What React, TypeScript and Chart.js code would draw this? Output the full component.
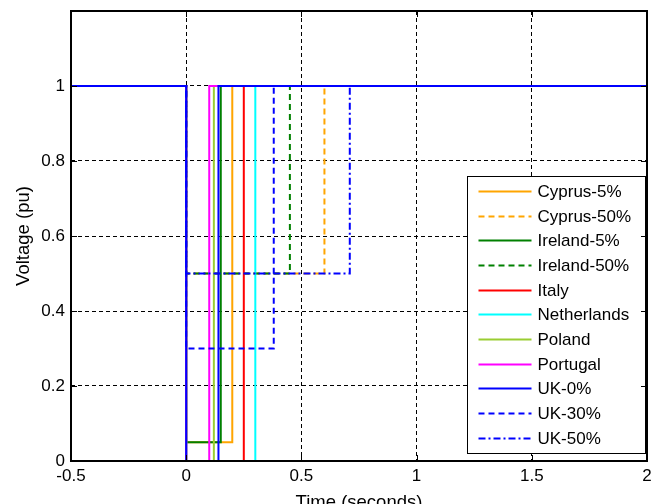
import React, { useEffect, useRef } from 'react';
import { Chart, registerables } from 'chart.js';

Chart.register(...registerables);

// ---- data ----
const seriesNames = [
  'Cyprus-5%', 'Cyprus-50%', 'Ireland-5%', 'Ireland-50%', 'Italy',
  'Netherlands', 'Poland', 'Portugal', 'UK-0%', 'UK-30%', 'UK-50%',
];
const simStart = -0.5;
const simEnd = 2;
const faultStart = 0;
const preFaultVoltage = 1;
const retainedVoltage = [0.05, 0.5, 0.05, 0.5, 0, 0, 0, 0, 0, 0.3, 0.5];
const clearTime = [0.2, 0.6, 0.15, 0.45, 0.25, 0.3, 0.12, 0.1, 0.14, 0.38, 0.71];
const xTicks = [-0.5, 0, 0.5, 1, 1.5, 2];
const yTicks = [0, 0.2, 0.4, 0.6, 0.8, 1];
const yMax = 1.2;

// ---- styles ----
const seriesColors = [
  '#FFA500', '#FFA500', '#008000', '#008000', '#FF0000',
  '#00FFFF', '#9ACD32', '#FF00FF', '#0000FF', '#0000FF', '#0000FF',
];
const DASH = [6, 4];
const DASHDOT = [7, 3, 2, 3];
const seriesDash: number[][] = [[], DASH, [], DASH, [], [], [], [], [], DASH, DASHDOT];

const FONT_FAMILY = '"Liberation Sans", Arial, Helvetica, sans-serif';
const TICK_SIZE = 17;
const LEGEND_SIZE = 17;
const LABEL_SIZE = 18.5;
const CANVAS_H = 516;

const framePlugin = {
  id: 'matlabFrame',
  afterDraw(chart: any) {
    const { ctx, chartArea: ca, scales } = chart;
    const xs = scales.x;
    const ys = scales.y;
    ctx.save();
    ctx.setLineDash([]);

    // legend box
    const boxR = ca.right - 1.5;
    const boxW = 178;
    const boxL = boxR - boxW;
    const boxB = ca.bottom - 7.5;
    const boxH = 277;
    const boxT = boxB - boxH;
    ctx.fillStyle = '#fff';
    ctx.fillRect(boxL, boxT, boxW, boxH);
    ctx.strokeStyle = '#000';
    ctx.lineWidth = 1;
    ctx.strokeRect(boxL, boxT, boxW, boxH);

    const rowH = 24.65;
    ctx.font = `${LEGEND_SIZE}px ${FONT_FAMILY}`;
    ctx.textBaseline = 'middle';
    ctx.textAlign = 'left';
    chart.data.datasets.forEach((ds: any, i: number) => {
      const y = Math.round(boxT + 14.5 + i * rowH) + 0.5;
      ctx.save();
      ctx.strokeStyle = ds.borderColor;
      ctx.lineWidth = 2;
      ctx.setLineDash(ds.borderDash || []);
      ctx.beginPath();
      ctx.moveTo(boxL + 11, y);
      ctx.lineTo(boxL + 64, y);
      ctx.stroke();
      ctx.restore();
      ctx.fillStyle = '#000';
      ctx.fillText(ds.label, boxL + 70, y + 1);
    });

    // inward ticks
    ctx.strokeStyle = '#000';
    ctx.lineWidth = 1;
    const tl = 6;
    ctx.beginPath();
    xTicks.forEach((v) => {
      const px = Math.round(xs.getPixelForValue(v)) + 0.5;
      ctx.moveTo(px, ca.bottom);
      ctx.lineTo(px, ca.bottom - tl);
      ctx.moveTo(px, ca.top);
      ctx.lineTo(px, ca.top + tl);
    });
    yTicks.forEach((v) => {
      const py = Math.round(ys.getPixelForValue(v)) + 0.5;
      ctx.moveTo(ca.left, py);
      ctx.lineTo(ca.left + tl, py);
      ctx.moveTo(ca.right, py);
      ctx.lineTo(ca.right - tl, py);
    });
    ctx.stroke();

    // frame
    ctx.lineWidth = 2;
    ctx.strokeRect(ca.left, ca.top, ca.right - ca.left, ca.bottom - ca.top);
    ctx.restore();
  },
};

const fmt = (v: number) => String(Math.round(v * 100) / 100);

export default function App() {
  const canvasRef = useRef<HTMLCanvasElement | null>(null);

  useEffect(() => {
    const canvas = canvasRef.current;
    if (!canvas) return;

    const datasets = seriesNames.map((name, i) => ({
      label: name,
      data: [
        { x: simStart, y: preFaultVoltage },
        { x: faultStart, y: preFaultVoltage },
        { x: faultStart, y: retainedVoltage[i] },
        { x: clearTime[i], y: retainedVoltage[i] },
        { x: clearTime[i], y: preFaultVoltage },
        { x: simEnd, y: preFaultVoltage },
      ],
      borderColor: seriesColors[i],
      backgroundColor: seriesColors[i],
      borderWidth: 2,
      borderDash: seriesDash[i],
      borderJoinStyle: 'miter' as const,
      borderCapStyle: 'butt' as const,
      pointRadius: 0,
      pointHoverRadius: 0,
      fill: false,
      tension: 0,
      order: seriesNames.length - i,
    }));

    const tickFont = { family: FONT_FAMILY, size: TICK_SIZE };
    const labelFont = { family: FONT_FAMILY, size: LABEL_SIZE };

    const chart = new Chart(canvas, {
      type: 'line',
      data: { datasets },
      options: {
        animation: false,
        responsive: false,
        maintainAspectRatio: false,
        events: [],
        layout: { padding: { left: 0, top: 11, right: 12, bottom: 0 } },
        plugins: {
          legend: { display: false },
          tooltip: { enabled: false },
        },
        scales: {
          x: {
            type: 'linear',
            min: simStart,
            max: simEnd,
            afterBuildTicks: (scale: any) => {
              scale.ticks = xTicks.map((v) => ({ value: v }));
            },
            afterFit: (scale: any) => {
              scale.height = CANVAS_H - 461;
              scale.paddingLeft = 0;
              scale.paddingRight = 0;
            },
            ticks: {
              font: tickFont,
              color: '#000',
              padding: 5,
              maxRotation: 0,
              autoSkip: false,
              callback: (v: any) => fmt(Number(v)),
            },
            grid: { color: '#000', lineWidth: 1, drawTicks: false },
            border: { display: false, dash: [4, 3] },
            title: {
              display: true,
              text: 'Time (seconds)',
              font: labelFont,
              color: '#000',
              padding: { top: 0, bottom: 2 },
            },
          },
          y: {
            type: 'linear',
            min: 0,
            max: yMax,
            afterBuildTicks: (scale: any) => {
              scale.ticks = yTicks.map((v) => ({ value: v }));
            },
            afterFit: (scale: any) => {
              scale.width = 71;
              scale.paddingTop = 0;
              scale.paddingBottom = 0;
            },
            ticks: {
              font: tickFont,
              color: '#000',
              padding: 6,
              autoSkip: false,
              callback: (v: any) => fmt(Number(v)),
            },
            grid: { color: '#000', lineWidth: 1, drawTicks: false },
            border: { display: false, dash: [4, 3] },
            title: {
              display: true,
              text: 'Voltage (pu)',
              font: labelFont,
              color: '#000',
              padding: { top: 13, bottom: 0 },
            },
          },
        },
      },
      plugins: [framePlugin],
    } as any);

    return () => chart.destroy();
  }, []);

  return (
    <div
      style={{
        position: 'fixed',
        left: 0,
        top: 0,
        width: 659,
        height: 504,
        overflow: 'hidden',
        background: '#fff',
      }}
    >
      <canvas ref={canvasRef} width={659} height={CANVAS_H} style={{ display: 'block' }} />
    </div>
  );
}
